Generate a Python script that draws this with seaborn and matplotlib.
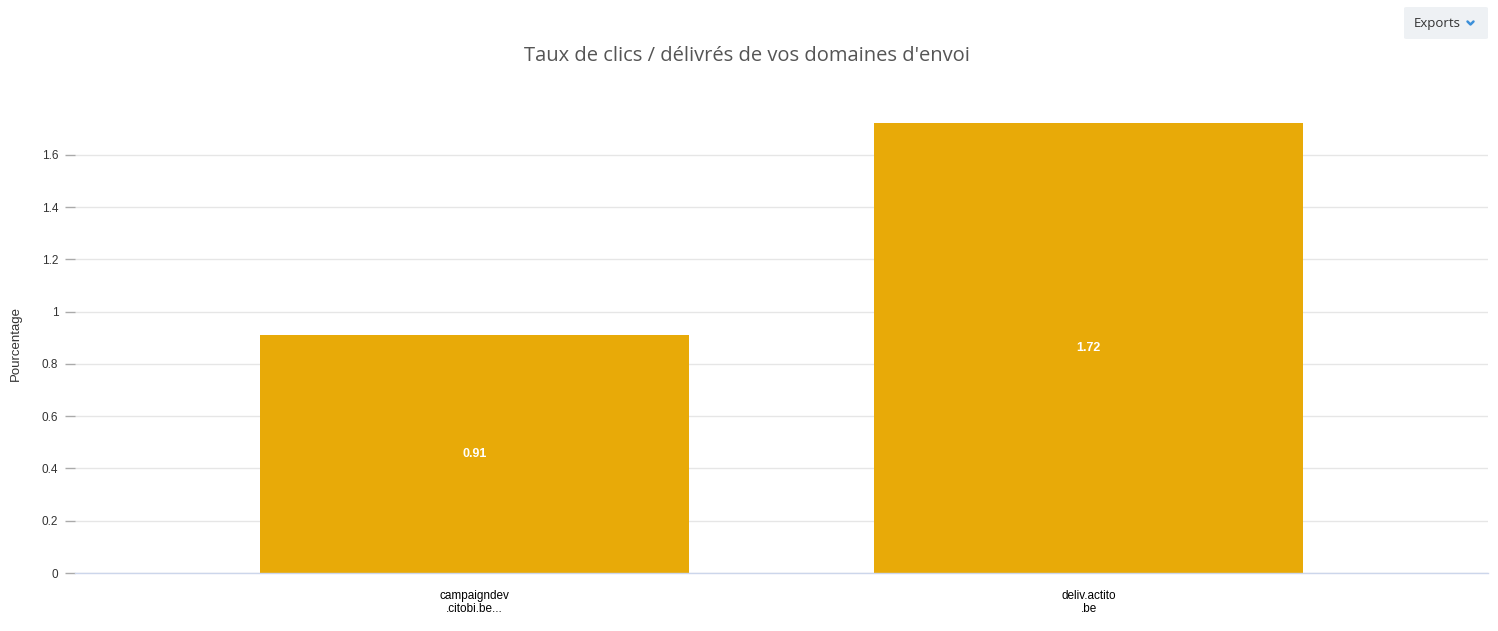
import matplotlib
matplotlib.use("Agg")
import matplotlib.pyplot as plt
import seaborn as sns
import pandas as pd
from matplotlib.patches import FancyBboxPatch
from matplotlib.lines import Line2D

categories = ["campaigndev\n.citobi.be...", "deliv.actito\n.be"]
values = [0.91, 1.72]
yticks = [0, 0.2, 0.4, 0.6, 0.8, 1.0, 1.2, 1.4, 1.6]
ytick_labels = ["0", "0.2", "0.4", "0.6", "0.8", "1", "1.2", "1.4", "1.6"]

sns.set_theme(style="white")
plt.rcParams['font.family'] = ['Liberation Sans', 'DejaVu Sans']

df = pd.DataFrame({"domain": categories, "value": values})

fig = plt.figure(figsize=(14.98, 6.31), dpi=100)
ax = fig.add_axes([0.05, 0.0919, 0.9433, 0.729])

sns.barplot(data=df, x="domain", y="value", color="#E8AA08", width=0.698,
            saturation=1, ax=ax, edgecolor="none")

ax.set_xlim(-0.65, 1.65)
ax.set_ylim(0, 1.76)
ax.set_yticks(yticks)
ax.set_yticklabels(ytick_labels)
ax.yaxis.grid(True, color="#e6e6e6", linewidth=1)
ax.set_axisbelow(True)
for s in ["top", "right", "left"]:
    ax.spines[s].set_visible(False)
ax.spines["bottom"].set_color("#ccd6eb")
ax.spines["bottom"].set_linewidth(1)

ax.tick_params(axis="y", length=7, width=1, color="#aaaaaa", labelsize=8.5,
               labelcolor="#333333", pad=5, left=True)
ax.tick_params(axis="x", length=0, labelsize=8.5, labelcolor="#000000", pad=12)
for lbl in ax.get_xticklabels():
    lbl.set_linespacing(1.1)

ax.set_xlabel("")
ax.set_ylabel("Pourcentage", fontsize=9.5, color="#333333", labelpad=14)

for i, v in enumerate(values):
    ax.text(i, v / 2, f"{v:.2f}", ha="center", va="center", color="white",
            fontsize=9, fontweight="bold")

fig.text(0.4987, 0.912, "Taux de clics / délivrés de vos domaines d'envoi",
         ha="center", va="center", fontsize=14.5, color="#555555",
         family=["Open Sans", "DejaVu Sans"])

# Exports button
btn = FancyBboxPatch((1404 / 1498, 1 - 39 / 631), 84 / 1498, 32 / 631,
                     boxstyle="round,pad=0,rounding_size=0.002",
                     transform=fig.transFigure, facecolor="#eef1f4",
                     edgecolor="none")
fig.patches.append(btn)
fig.text(1437 / 1498, 1 - 23.5 / 631, "Exports", ha="center", va="center",
         fontsize=9.5, color="#333333", family=["Open Sans", "DejaVu Sans"])
fig.lines.append(Line2D([1467.5 / 1498, 1470.5 / 1498, 1473.5 / 1498],
                        [1 - 21.5 / 631, 1 - 24.5 / 631, 1 - 21.5 / 631],
                        transform=fig.transFigure, color="#3b8fd9",
                        linewidth=1.8))

fig.savefig("out.png", dpi=100)
